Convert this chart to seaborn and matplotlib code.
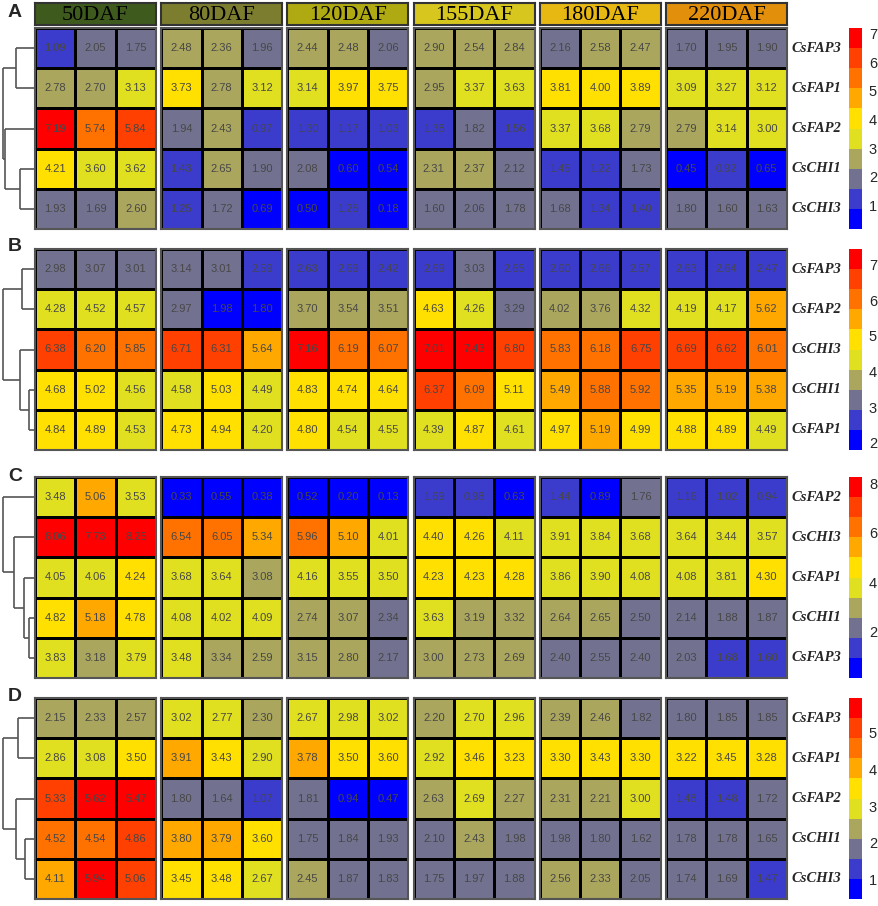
import numpy as np
import pandas as pd
import matplotlib
matplotlib.use("Agg")
import matplotlib.pyplot as plt
import seaborn as sns
from matplotlib.colors import ListedColormap, Normalize
from matplotlib.cm import ScalarMappable

sns.set_style("white")
plt.rcParams["font.family"] = ["Liberation Sans", "DejaVu Sans"]

# ---------------- data ----------------
stages = ["50DAF", "80DAF", "120DAF", "155DAF", "180DAF", "220DAF"]
stage_colors = ["#3e5a1c", "#7d7d2f", "#b0aa12", "#d6c61e", "#e8b812", "#e2900c"]
level_colors = ["#0000ff", "#3b3bcc", "#727290", "#aaa65e", "#e0e020",
                "#ffe000", "#ffa800", "#ff7200", "#ff4000", "#ff0000"]

A_genes = ["CsFAP3", "CsFAP1", "CsFAP2", "CsCHI1", "CsCHI3"]
A_values = [
    [1.09, 2.05, 1.75, 2.48, 2.36, 1.96, 2.44, 2.48, 2.06, 2.90, 2.54, 2.84, 2.16, 2.58, 2.47, 1.70, 1.95, 1.90],
    [2.78, 2.70, 3.13, 3.73, 2.78, 3.12, 3.14, 3.97, 3.75, 2.95, 3.37, 3.63, 3.81, 4.00, 3.89, 3.09, 3.27, 3.12],
    [7.19, 5.74, 5.84, 1.94, 2.43, 0.97, 1.30, 1.17, 1.03, 1.38, 1.82, 1.56, 3.37, 3.68, 2.79, 2.79, 3.14, 3.00],
    [4.21, 3.60, 3.62, 1.43, 2.65, 1.90, 2.08, 0.60, 0.54, 2.31, 2.37, 2.12, 1.45, 1.22, 1.73, 0.45, 0.92, 0.65],
    [1.93, 1.69, 2.60, 1.25, 1.72, 0.69, 0.50, 1.25, 0.18, 1.60, 2.06, 1.78, 1.68, 1.34, 1.40, 1.80, 1.60, 1.63],
]
A_link = [(3, 4, 15), (0, 1, 19), (2, 5, 30), (6, 7, 32)]
A_ticks = [1, 2, 3, 4, 5, 6, 7]

B_genes = ["CsFAP3", "CsFAP2", "CsCHI3", "CsCHI1", "CsFAP1"]
B_values = [
    [2.98, 3.07, 3.01, 3.14, 3.01, 2.59, 2.63, 2.69, 2.42, 2.69, 3.03, 2.65, 2.60, 2.66, 2.57, 2.63, 2.64, 2.47],
    [4.28, 4.52, 4.57, 2.97, 1.98, 1.80, 3.70, 3.54, 3.51, 4.63, 4.26, 3.29, 4.02, 3.76, 4.32, 4.19, 4.17, 5.62],
    [6.38, 6.20, 5.85, 6.71, 6.31, 5.64, 7.16, 6.19, 6.07, 7.01, 7.43, 6.80, 5.83, 6.18, 6.75, 6.69, 6.62, 6.01],
    [4.68, 5.02, 4.56, 4.58, 5.03, 4.49, 4.83, 4.74, 4.64, 6.37, 6.09, 5.11, 5.49, 5.88, 5.92, 5.35, 5.19, 5.38],
    [4.84, 4.89, 4.53, 4.73, 4.94, 4.20, 4.80, 4.54, 4.55, 4.39, 4.87, 4.61, 4.97, 5.19, 4.99, 4.88, 4.89, 4.49],
]
B_link = [(3, 4, 6), (0, 1, 13), (2, 5, 15), (6, 7, 32)]
B_ticks = [2, 3, 4, 5, 6, 7]

C_genes = ["CsFAP2", "CsCHI3", "CsFAP1", "CsCHI1", "CsFAP3"]
C_values = [
    [3.48, 5.06, 3.53, 0.33, 0.55, 0.38, 0.52, 0.20, 0.13, 1.69, 0.98, 0.63, 1.44, 0.89, 1.76, 1.16, 1.02, 0.94],
    [8.06, 7.73, 8.25, 6.54, 6.05, 5.34, 5.96, 5.10, 4.01, 4.40, 4.26, 4.11, 3.91, 3.84, 3.68, 3.64, 3.44, 3.57],
    [4.05, 4.06, 4.24, 3.68, 3.64, 3.08, 4.16, 3.55, 3.50, 4.23, 4.23, 4.28, 3.86, 3.90, 4.08, 4.08, 3.81, 4.30],
    [4.82, 5.18, 4.78, 4.08, 4.02, 4.09, 2.74, 3.07, 2.34, 3.63, 3.19, 3.32, 2.64, 2.65, 2.50, 2.14, 1.88, 1.87],
    [3.83, 3.18, 3.79, 3.48, 3.34, 2.59, 3.15, 2.80, 2.17, 3.00, 2.73, 2.69, 2.40, 2.55, 2.40, 2.03, 1.68, 1.60],
]
C_link = [(3, 4, 6), (2, 5, 11), (1, 6, 21), (0, 7, 32)]
C_ticks = [2, 4, 6, 8]

D_genes = ["CsFAP3", "CsFAP1", "CsFAP2", "CsCHI1", "CsCHI3"]
D_values = [
    [2.15, 2.33, 2.57, 3.02, 2.77, 2.30, 2.67, 2.98, 3.02, 2.20, 2.70, 2.96, 2.39, 2.46, 1.82, 1.80, 1.85, 1.85],
    [2.86, 3.08, 3.50, 3.91, 3.43, 2.90, 3.78, 3.50, 3.60, 2.92, 3.46, 3.23, 3.30, 3.43, 3.30, 3.22, 3.45, 3.28],
    [5.33, 5.62, 5.47, 1.80, 1.64, 1.07, 1.81, 0.94, 0.47, 2.63, 2.69, 2.27, 2.31, 2.21, 3.00, 1.48, 1.48, 1.72],
    [4.52, 4.54, 4.86, 3.80, 3.79, 3.60, 1.75, 1.84, 1.93, 2.10, 2.43, 1.98, 1.98, 1.80, 1.62, 1.78, 1.78, 1.65],
    [4.11, 5.94, 5.06, 3.45, 3.48, 2.67, 2.45, 1.87, 1.83, 1.75, 1.97, 1.88, 2.56, 2.33, 2.05, 1.74, 1.69, 1.47],
]
D_link = [(3, 4, 10), (0, 1, 17), (2, 5, 19), (6, 7, 32)]
D_ticks = [1, 2, 3, 4, 5]

panels = [
    ("A", A_genes, A_values, A_link, A_ticks),
    ("B", B_genes, B_values, B_link, B_ticks),
    ("C", C_genes, C_values, C_link, C_ticks),
    ("D", D_genes, D_values, D_link, D_ticks),
]

# ---------------- layout (pixels) ----------------
W, H = 879, 906
fig = plt.figure(figsize=(W / 100, H / 100), dpi=100)
fig.patch.set_facecolor("white")


def px_axes(x0, y0, x1, y1):
    return fig.add_axes([x0 / W, 1 - y1 / H, (x1 - x0) / W, (y1 - y0) / H])


block_x0 = [35 + i * 126.2 for i in range(6)]
block_w = 121
panel_y = [(28, 229), (249, 450), (477, 678), (698, 899)]
letter_y = [4, 238, 468, 688]
cmap = ListedColormap(level_colors)


def draw_dendro(ax, link, n):
    pos = {i: i + 0.5 for i in range(n)}
    hgt = {i: 0.0 for i in range(n)}
    for k, (a, b, h) in enumerate(link):
        for c in (a, b):
            ax.plot([hgt[c], h], [pos[c], pos[c]], color="#555555", lw=1.2,
                    solid_capstyle="butt")
        ax.plot([h, h], [pos[a], pos[b]], color="#555555", lw=1.2,
                solid_capstyle="butt")
        pos[n + k] = (pos[a] + pos[b]) / 2
        hgt[n + k] = h


# header boxes
for s, name in enumerate(stages):
    x0 = block_x0[s]
    hax = px_axes(x0, 3, x0 + block_w, 25)
    hax.set_facecolor(stage_colors[s])
    hax.set_xticks([])
    hax.set_yticks([])
    for sp in hax.spines.values():
        sp.set_visible(True)
        sp.set_color("#333333")
        sp.set_linewidth(1.5)
    hax.text(0.5, 0.45, name, ha="center", va="center", fontsize=16,
             family=["Liberation Serif", "DejaVu Serif"], color="black",
             transform=hax.transAxes)

for p, (letter, genes, vals, link, ticks) in enumerate(panels):
    arr = np.array(vals)
    vmin = arr.min() - 0.005
    vmax = arr.max() + 0.005
    y0, y1 = panel_y[p]
    for s in range(6):
        x0 = block_x0[s]
        ax = px_axes(x0, y0, x0 + block_w, y1)
        df = pd.DataFrame(arr[:, 3 * s:3 * s + 3], index=genes)
        sns.heatmap(df, ax=ax, cmap=cmap, vmin=vmin, vmax=vmax, annot=True,
                    fmt=".2f", cbar=False, linewidths=0.85, linecolor="black",
                    xticklabels=False, yticklabels=False,
                    annot_kws={"fontsize": 8, "color": "#474747"})
        for sp in ax.spines.values():
            sp.set_visible(True)
            sp.set_color("#555555")
            sp.set_linewidth(1.5)
        ax.set_xlabel("")
        ax.set_ylabel("")

    # gene labels
    rh = (y1 - y0) / len(genes)
    for i, g in enumerate(genes):
        fig.text(792 / W, 1 - (y0 + rh * (i + 0.5)) / H, g, ha="left",
                 va="center", fontsize=10.5, fontweight="bold", fontstyle="italic",
                 family=["Liberation Serif", "DejaVu Serif"])

    # colorbar
    cax = px_axes(849, y0, 862, y1)
    cb = fig.colorbar(ScalarMappable(norm=Normalize(vmin, vmax), cmap=cmap), cax=cax)
    cb.set_ticks(ticks)
    cb.outline.set_visible(False)
    cax.tick_params(length=0, labelsize=10.5, pad=5)

    # dendrogram
    dax = px_axes(0, y0, 35, y1)
    draw_dendro(dax, link, len(genes))
    dax.set_xlim(35, 0)
    dax.set_ylim(len(genes), 0)
    dax.axis("off")

    # panel letter
    fig.text(8 / W, 1 - letter_y[p] / H, letter, ha="left", va="top",
             fontsize=14, fontweight="bold")

fig.savefig("out.png", dpi=100, facecolor="white")
